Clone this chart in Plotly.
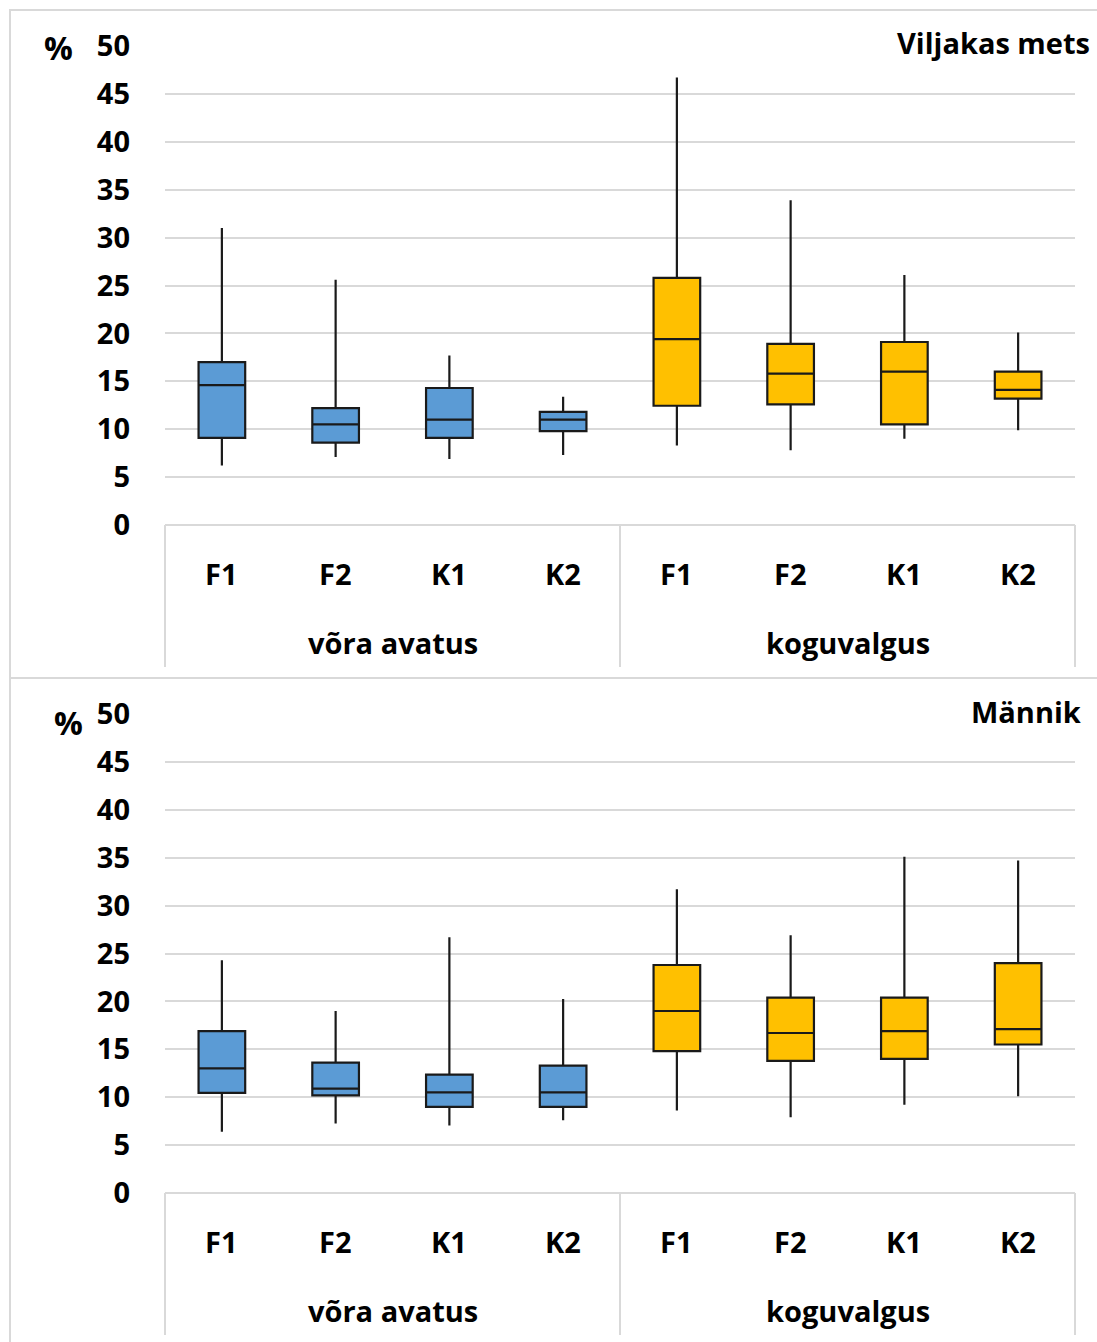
import plotly.graph_objects as go

# Category labels
categories = ["F1", "F2", "K1", "K2"]
groups = ["võra avatus", "koguvalgus"]
panel_titles = ["Viljakas mets", "Männik"]

# Viljakas mets – võra avatus
vm_vora_low = [6.2, 7.1, 6.9, 7.3]
vm_vora_q1 = [9.1, 8.6, 9.1, 9.8]
vm_vora_med = [14.6, 10.5, 11.0, 11.0]
vm_vora_q3 = [17.0, 12.2, 14.3, 11.8]
vm_vora_high = [31.0, 25.6, 17.7, 13.4]

# Viljakas mets – koguvalgus
vm_kogu_low = [8.3, 7.8, 9.0, 9.9]
vm_kogu_q1 = [12.45, 12.6, 10.5, 13.2]
vm_kogu_med = [19.4, 15.8, 16.0, 14.1]
vm_kogu_q3 = [25.8, 18.9, 19.1, 16.0]
vm_kogu_high = [46.7, 33.9, 26.1, 20.1]

# Männik – võra avatus
mn_vora_low = [6.4, 7.25, 7.05, 7.6]
mn_vora_q1 = [10.45, 10.2, 9.0, 9.0]
mn_vora_med = [13.0, 10.9, 10.5, 10.5]
mn_vora_q3 = [16.9, 13.6, 12.35, 13.3]
mn_vora_high = [24.3, 19.0, 26.7, 20.25]

# Männik – koguvalgus
mn_kogu_low = [8.6, 7.9, 9.2, 10.1]
mn_kogu_q1 = [14.8, 13.8, 14.0, 15.5]
mn_kogu_med = [19.0, 16.7, 16.9, 17.1]
mn_kogu_q3 = [23.8, 20.4, 20.4, 24.0]
mn_kogu_high = [31.7, 26.9, 35.1, 34.7]

y_ticks = [0, 5, 10, 15, 20, 25, 30, 35, 40, 45, 50]

W, H = 1097, 1342
BLUE = "#5B9BD5"
GOLD = "#FFC000"
GRID = "#d9d9d9"
FONT = "Open Sans"
TEXT = dict(family=FONT, size=29, color="#000000", weight="bold")


def px(x):
    return x / W


def py(y):
    return 1 - y / H


panels = [
    dict(top=46, bottom=525, axis_bottom=667, title=panel_titles[0],
         title_x=1092, title_y=43, pct_x=58, pct_y=47,
         vora=(vm_vora_low, vm_vora_q1, vm_vora_med, vm_vora_q3, vm_vora_high),
         kogu=(vm_kogu_low, vm_kogu_q1, vm_kogu_med, vm_kogu_q3, vm_kogu_high)),
    dict(top=714, bottom=1193, axis_bottom=1335, title=panel_titles[1],
         title_x=1083, title_y=711, pct_x=68, pct_y=722,
         vora=(mn_vora_low, mn_vora_q1, mn_vora_med, mn_vora_q3, mn_vora_high),
         kogu=(mn_kogu_low, mn_kogu_q1, mn_kogu_med, mn_kogu_q3, mn_kogu_high)),
]

PLOT_L, PLOT_R = 165, 1075

fig = go.Figure()
shapes = []
annotations = []
layout_axes = {}

for i, p in enumerate(panels):
    n = "" if i == 0 else str(i + 1)
    xa, ya = "x" + n, "y" + n
    series = [(p["vora"], BLUE, [0, 1, 2, 3]), (p["kogu"], GOLD, [4, 5, 6, 7])]
    for (low, q1, med, q3, high), color, xs in series:
        fig.add_trace(go.Box(
            x=xs, q1=q1, median=med, q3=q3, lowerfence=low, upperfence=high,
            fillcolor=color, line=dict(color="#1a1a1a", width=2.2),
            width=0.41, whiskerwidth=0, boxpoints=False,
            xaxis=xa, yaxis=ya, showlegend=False, hoverinfo="skip",
        ))

    layout_axes["xaxis" + n] = dict(
        domain=[px(PLOT_L), px(PLOT_R)], range=[-0.5, 7.5],
        showgrid=False, zeroline=False, showticklabels=False,
        showline=False, anchor=ya, fixedrange=True, automargin=False,
    )
    layout_axes["yaxis" + n] = dict(
        domain=[py(p["bottom"]), py(p["top"])], range=[0, 50],
        tickvals=y_ticks, ticktext=[str(v) for v in y_ticks],
        showgrid=True, gridcolor=GRID, gridwidth=1.5, zeroline=False,
        showline=False, anchor=xa, ticks="", ticklabelstandoff=34,
        tickfont=TEXT, fixedrange=True, automargin=False,
    )

    # category axis frame
    shapes.append(dict(type="line", xref="paper", yref="paper",
                       x0=px(PLOT_L), x1=px(PLOT_R), y0=py(p["bottom"]), y1=py(p["bottom"]),
                       line=dict(color=GRID, width=2)))
    for xv in (PLOT_L, (PLOT_L + PLOT_R) / 2, PLOT_R):
        shapes.append(dict(type="line", xref="paper", yref="paper",
                           x0=px(xv), x1=px(xv), y0=py(p["bottom"]), y1=py(p["axis_bottom"]),
                           line=dict(color=GRID, width=2)))

    # category and group labels
    for g, gname in enumerate(groups):
        for c, cname in enumerate(categories):
            annotations.append(dict(
                x=g * 4 + c, xref=xa, y=py(p["bottom"] + 48), yref="paper",
                text=cname, showarrow=False, xanchor="center", yanchor="middle",
                font=TEXT))
        annotations.append(dict(
            x=g * 4 + 1.5, xref=xa, y=py(p["bottom"] + 117), yref="paper",
            text=gname, showarrow=False, xanchor="center", yanchor="middle",
            font=TEXT))

    # panel title and unit
    annotations.append(dict(
        x=px(p["title_x"]), y=py(p["title_y"]), xref="paper", yref="paper",
        text=p["title"], showarrow=False, xanchor="right", yanchor="middle",
        font=TEXT))
    annotations.append(dict(
        x=px(p["pct_x"]), y=py(p["pct_y"]), xref="paper", yref="paper",
        text="%", showarrow=False, xanchor="center", yanchor="middle",
        font=dict(TEXT, size=32)))

# outer chart-area borders
shapes.append(dict(type="rect", xref="paper", yref="paper",
                   x0=px(10), x1=px(1110), y0=py(10), y1=py(678),
                   line=dict(color=GRID, width=2)))
shapes.append(dict(type="rect", xref="paper", yref="paper",
                   x0=px(10), x1=px(1110), y0=py(678), y1=py(1360),
                   line=dict(color=GRID, width=2)))

fig.update_layout(
    width=W, height=H,
    margin=dict(l=0, r=0, t=0, b=0, pad=0, autoexpand=False),
    paper_bgcolor="white", plot_bgcolor="white",
    shapes=shapes, annotations=annotations,
    showlegend=False,
    **layout_axes,
)

fig.write_html("out.html", config={"displayModeBar": False})
